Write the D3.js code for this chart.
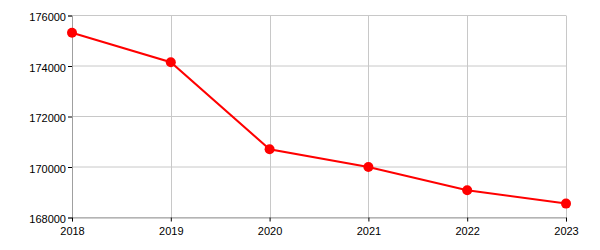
<!DOCTYPE html>
<html><head><meta charset="utf-8">
<script src="https://cdn.jsdelivr.net/npm/d3@7"></script>
<style>body{margin:0;background:#fff}svg{display:block}</style>
</head><body>
<svg id="c" width="600" height="250"></svg>
<script>
const years = [2018, 2019, 2020, 2021, 2022, 2023];
const values = [175320, 174150, 170700, 170000, 169080, 168550];
const yTicks = [168000, 170000, 172000, 174000, 176000];

const W = 600, H = 250;
const m = {left: 72, right: 34, top: 15.5, bottom: 32.5};
const svg = d3.select('#c');
const x = d3.scaleLinear().domain([2018, 2023]).range([m.left, W - m.right]);
const y = d3.scaleLinear().domain([168000, 176000]).range([H - m.bottom, m.top]);

const g = svg.append('g');
// grid
g.selectAll('.vg').data(years).join('line')
  .attr('x1', d => Math.round(x(d)) + 0.5).attr('x2', d => Math.round(x(d)) + 0.5)
  .attr('y1', m.top).attr('y2', H - m.bottom)
  .attr('stroke', '#c8c8c8').attr('stroke-width', 1);
g.selectAll('.hg').data(yTicks).join('line')
  .attr('y1', d => y(d)).attr('y2', d => y(d))
  .attr('x1', m.left).attr('x2', W - m.right)
  .attr('stroke', '#c8c8c8').attr('stroke-width', 1);

// axes
const yAxis = d3.axisLeft(y).tickValues(yTicks).tickFormat(d3.format('d')).tickSize(4).tickPadding(2);
const xAxis = d3.axisBottom(x).tickValues(years).tickFormat(d3.format('d')).tickSize(4).tickPadding(5.5);
const ya = svg.append('g').attr('transform', `translate(${m.left},0)`).call(yAxis);
const xa = svg.append('g').attr('transform', `translate(0,${H - m.bottom})`).call(xAxis);
[ya, xa].forEach(a => {
  a.select('.domain').attr('stroke', '#a0a0a0');
  a.selectAll('.tick line').attr('stroke', '#000');
  a.selectAll('text').attr('fill', '#000').style('font-family', 'Arial, "Liberation Sans", sans-serif').style('font-size', '11px');
});
ya.selectAll('text').attr('dy', '0.48em');

// line
svg.append('path').datum(years.map((d, i) => [d, values[i]]))
  .attr('fill', 'none').attr('stroke', '#ff0000').attr('stroke-width', 2)
  .attr('d', d3.line().x(d => x(d[0])).y(d => y(d[1])));
svg.selectAll('.dot').data(years.map((d, i) => [d, values[i]])).join('circle')
  .attr('cx', d => x(d[0])).attr('cy', d => y(d[1])).attr('r', 5)
  .attr('fill', '#ff0000');
</script>
</body></html>
